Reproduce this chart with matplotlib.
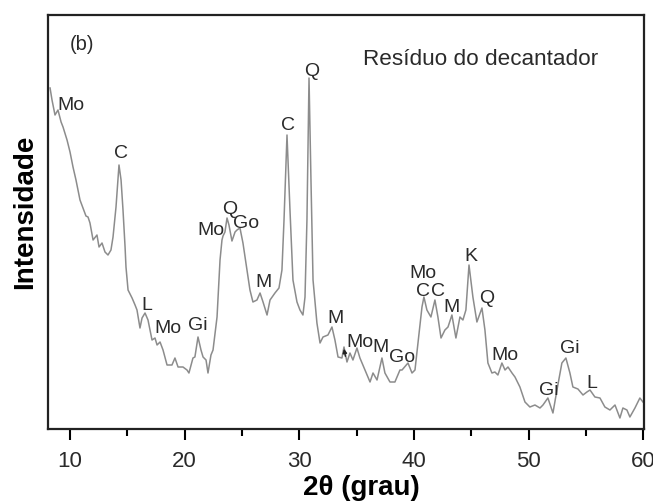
import matplotlib
matplotlib.use('Agg')
import matplotlib.pyplot as plt

plt.rcParams['font.family'] = ['Liberation Sans', 'DejaVu Sans']

# difratograma: 2theta (graus) e intensidade (u.a.)
dois_theta = [
    8.26, 8.43, 8.69, 8.95, 9.22, 9.39, 9.74, 10.00, 10.26, 10.52, 10.87, 11.13, 11.39,
    11.57, 11.74, 12.01, 12.35, 12.53, 12.79, 13.05, 13.31, 13.57, 13.75, 14.01, 14.27,
    14.45, 14.62, 14.80, 14.88, 15.06, 15.41, 15.67, 15.84, 16.10, 16.28, 16.54, 16.80,
    17.15, 17.41, 17.59, 17.85, 18.11, 18.46, 18.89, 19.15, 19.42, 19.85, 20.20, 20.37,
    20.72, 20.89, 21.16, 21.42, 21.60, 21.86, 22.03, 22.29, 22.47, 22.82, 23.08, 23.25,
    23.34, 23.51, 23.69, 23.86, 24.12, 24.39, 24.56, 24.82, 25.08, 25.43, 25.69, 25.95,
    26.30, 26.57, 26.83, 27.18, 27.44, 27.87, 28.22, 28.48, 28.66, 28.92, 29.18, 29.44,
    29.79, 30.05, 30.31, 30.49, 30.66, 30.84, 31.01, 31.19, 31.53, 31.80, 32.06, 32.49,
    32.84, 33.10, 33.37, 33.71, 33.89, 34.15, 34.41, 34.67, 35.02, 35.28, 35.72, 36.16,
    36.42, 36.77, 37.20, 37.46, 37.90, 38.33, 38.77, 38.95, 39.47, 39.82, 40.08, 40.34,
    40.69, 40.86, 41.12, 41.47, 41.82, 42.08, 42.35, 42.69, 42.96, 43.30, 43.65, 44.00,
    44.26, 44.52, 44.79, 45.13, 45.48, 45.92, 46.18, 46.44, 46.79, 47.05, 47.31, 47.66,
    47.93, 48.19, 48.54, 48.80, 49.23, 49.67, 50.10, 50.54, 50.98, 51.24, 51.67, 52.11,
    52.46, 52.89, 53.24, 53.59, 53.85, 54.29, 54.73, 55.07, 55.34, 55.77, 56.21, 56.64,
    57.08, 57.52, 57.95, 58.21, 58.56, 58.82, 59.26, 59.69, 59.96,
]
intensidade = [
    341, 329, 314, 319, 307, 302, 289, 277, 262, 249, 229, 221, 213,
    212, 206, 189, 194, 182, 186, 177, 174, 179, 192, 222, 264,
    249, 219, 182, 162, 139, 131, 124, 119, 101, 111, 116, 109,
    89, 91, 84, 87, 79, 64, 64, 71, 62, 62, 59, 56,
    71, 72, 92, 79, 72, 69, 56, 74, 79, 112, 169, 189,
    193, 197, 211, 204, 188, 197, 199, 201, 186, 159, 139, 127,
    129, 136, 127, 114, 129, 136, 141, 159, 209, 294, 219, 149,
    127, 119, 114, 132, 209, 351, 249, 149, 106, 86, 92, 94,
    102, 89, 72, 71, 82, 67, 76, 69, 81, 71, 59, 47,
    56, 49, 71, 56, 47, 47, 59, 59, 66, 56, 59, 86,
    122, 132, 119, 112, 129, 112, 91, 99, 102, 114, 91, 112,
    109, 119, 164, 132, 107, 121, 99, 66, 56, 57, 54, 66,
    59, 62, 56, 52, 42, 27, 22, 24, 21, 24, 31, 16,
    39, 66, 71, 56, 42, 40, 34, 37, 39, 32, 31, 22,
    19, 24, 11, 21, 19, 12, 21, 31, 27,
]

# identificação das fases: texto, 2theta, intensidade (linha de base do texto)
fases = ['Mo', 'C', 'L', 'Mo', 'Gi', 'Mo', 'Q', 'Go', 'M', 'C', 'Q', 'M', 'Mo', 'M', 'Go',
         'Mo', 'C', 'C', 'M', 'K', 'Q', 'Mo', 'Gi', 'Gi', 'L']
fases_x = [10.05, 14.45, 16.71, 18.54, 21.16, 22.29, 23.95, 25.34, 26.91, 29.00, 31.10, 33.19,
           35.28, 37.11, 38.95, 40.78, 40.78, 42.08, 43.30, 44.96, 46.36, 47.93, 51.76, 53.59, 55.51]
fases_y = [319, 271, 119, 96, 99, 194, 215, 201, 142, 299, 353, 106,
           82, 77, 67, 151, 133, 133, 117, 168, 126, 69, 34, 76, 41]

fig = plt.figure(figsize=(6.53, 5.04), dpi=100)
ax = fig.add_axes([48 / 653, 1 - 429 / 504, 596 / 653, 414 / 504])

ax.plot(dois_theta, intensidade, color='#8c8c8c', lw=1.1)

for nome, x, y in zip(fases, fases_x, fases_y):
    ax.text(x, y, nome, fontsize=14, ha='center', va='baseline', color='#2a2a2a')

ax.annotate('', xy=(33.85, 83), xytext=(34.05, 70),
            arrowprops=dict(arrowstyle='-|>', color='#222222', lw=1.0, mutation_scale=6))

ax.text(11.05, 379, '(b)', fontsize=14.5, ha='center', va='baseline', color='#2a2a2a')
ax.text(35.55, 364, 'Resíduo do decantador', fontsize=16.2, ha='left', va='baseline',
        color='#2a2a2a')

ax.set_xlim(8.08, 60.05)
ax.set_ylim(0, 414)
ax.set_xticks([10, 20, 30, 40, 50, 60])
ax.set_xticks([15, 25, 35, 45, 55], minor=True)
ax.set_yticks([])
ax.tick_params(axis='x', which='major', direction='out', length=8, width=1.5,
               labelsize=16, pad=8, labelcolor='#2a2a2a')
ax.tick_params(axis='x', which='minor', direction='out', length=5, width=1.5)
for sp in ax.spines.values():
    sp.set_linewidth(1.6)
    sp.set_color('#222222')

fig.text(361 / 653, 1 - 488 / 504, '2θ (grau)', fontsize=20, fontweight='bold',
         ha='center', va='center')
fig.text(25 / 653, 1 - 212 / 504, 'Intensidade', fontsize=20, fontweight='bold',
         rotation=90, ha='center', va='center')

fig.savefig('out.png', dpi=100)
